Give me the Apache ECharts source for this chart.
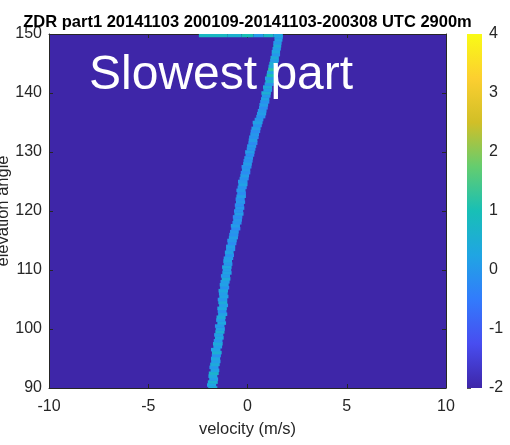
<!DOCTYPE html>
<html><head><meta charset="utf-8">
<script src="https://cdn.jsdelivr.net/npm/echarts@6/dist/echarts.min.js"></script>
<style>html,body{margin:0;padding:0;background:#fff}#c{width:510px;height:445px}</style>
</head><body><div id="c"></div>
<script>
// ---------- text ----------
const titleText = 'ZDR part1 20141103 200109-20141103-200308 UTC 2900m';
const annotationText = 'Slowest part';
const xName = 'velocity (m/s)';
const yName = 'elevation angle';

// ---------- tick labels ----------
const velocityTicks = [-10, -5, 0, 5, 10];
const elevationTicks = [90, 100, 110, 120, 130, 140, 150];
const zdrTicks = [-2, -1, 0, 1, 2, 3, 4];

// ---------- trace rows (elevation, left/right velocity edge, ZDR) ----------
const rowElev = [90,90.5,91,91.5,92,92.5,93,93.5,94,94.5,95,95.5,96,96.5,97,97.5,98,98.5,99,99.5,
 100,100.5,101,101.5,102,102.5,103,103.5,104,104.5,105,105.5,106,106.5,107,107.5,108,108.5,109,109.5,
 110,110.5,111,111.5,112,112.5,113,113.5,114,114.5,115,115.5,116,116.5,117,117.5,118,118.5,119,119.5,
 120,120.5,121,121.5,122,122.5,123,123.5,124,124.5,125,125.5,126,126.5,127,127.5,128,128.5,129,129.5,
 130,130.5,131,131.5,132,132.5,133,133.5,134,134.5,135,135.5,136,136.5,137,137.5,138,138.5,139,139.5,
 140,140.5,141,141.5,142,142.5,143,143.5,144,144.5,145,145.5,146,146.5,147,147.5,148,148.5,149,149.5];
const rowLeft = [-1.98,-2.04,-2.00,-1.93,-1.97,-1.95,-1.86,-1.92,-1.88,-1.83,-1.84,-1.80,-1.79,-1.84,-1.72,-1.74,-1.70,-1.64,-1.68,-1.62,
 -1.60,-1.64,-1.52,-1.58,-1.56,-1.48,-1.50,-1.52,-1.43,-1.47,-1.50,-1.42,-1.44,-1.46,-1.38,-1.40,-1.36,-1.30,-1.34,-1.27,
 -1.25,-1.28,-1.20,-1.22,-1.20,-1.13,-1.14,-1.08,-1.08,-1.00,-1.02,-0.94,-0.92,-0.88,-0.82,-0.84,-0.76,-0.72,-0.74,-0.66,
 -0.68,-0.62,-0.64,-0.58,-0.60,-0.56,-0.52,-0.56,-0.50,-0.46,-0.48,-0.40,-0.36,-0.34,-0.28,-0.30,-0.22,-0.20,-0.16,-0.10,
 -0.12,-0.04,-0.02,0.04,0.06,0.08,0.14,0.16,0.20,0.28,0.26,0.36,0.44,0.48,0.52,0.58,0.60,0.64,0.68,0.72,
 0.70,0.80,0.78,0.86,0.90,0.88,0.96,0.98,1.04,1.06,1.10,1.14,1.16,1.22,1.22,1.26,1.30,1.30,1.36,1.36];
const rowRight = [-1.52,-1.58,-1.50,-1.48,-1.52,-1.45,-1.42,-1.46,-1.40,-1.36,-1.38,-1.34,-1.30,-1.36,-1.28,-1.25,-1.26,-1.20,-1.22,-1.16,
 -1.14,-1.16,-1.08,-1.12,-1.10,-1.02,-1.06,-1.04,-0.98,-1.02,-1.02,-0.96,-1.00,-0.98,-0.92,-0.95,-0.90,-0.86,-0.88,-0.80,
 -0.82,-0.80,-0.76,-0.78,-0.72,-0.68,-0.70,-0.62,-0.62,-0.56,-0.54,-0.48,-0.46,-0.44,-0.36,-0.38,-0.30,-0.28,-0.26,-0.20,
 -0.22,-0.16,-0.18,-0.12,-0.14,-0.08,-0.08,-0.10,-0.04,0.00,0.00,0.06,0.08,0.14,0.14,0.20,0.22,0.26,0.28,0.34,
 0.36,0.40,0.44,0.50,0.50,0.56,0.58,0.64,0.66,0.72,0.76,0.80,0.90,0.94,0.96,1.02,1.04,1.10,1.10,1.16,
 1.18,1.24,1.24,1.32,1.34,1.36,1.40,1.46,1.46,1.52,1.54,1.58,1.58,1.64,1.64,1.68,1.70,1.72,1.76,1.78];
const rowZdr = [0.4,0.2,0.5,0.1,0.3,0.6,0.2,0.0,0.4,0.1,0.3,-0.1,0.5,0.2,0.1,0.4,0.0,0.3,0.1,0.5,
 0.2,0.0,0.3,0.1,0.4,0.2,-0.1,0.3,0.1,0.4,0.0,0.2,0.1,0.3,-0.1,0.2,0.1,0.4,0.0,0.2,
 0.1,0.3,0.0,0.2,0.1,-0.1,0.2,0.0,0.1,-0.2,0.0,0.1,-0.1,0.0,-0.2,0.1,-0.1,0.0,-0.2,0.1,
 -0.1,0.0,-0.2,0.0,-0.1,0.1,-0.2,0.0,-0.1,0.2,0.0,-0.1,0.1,-0.2,0.0,-0.1,0.1,-0.1,0.0,-0.2,
 0.1,-0.1,0.0,-0.2,0.1,-0.1,0.0,-0.2,0.1,-0.1,0.2,0.0,-0.1,0.1,0.0,-0.2,0.1,-0.1,0.2,0.0,
 0.5,0.1,0.4,0.0,0.6,0.1,1.0,0.2,1.2,0.3,0.5,0.1,0.4,0.0,0.3,0.1,0.4,0.0,0.2,0.1];

// ---------- top row (elevation 150 band) ----------
const topElev = 149.75;
const topLeft  = [-2.45, -1.00, -0.30, 0.30, 0.80, 1.30];
const topRight = [-1.00, -0.30,  0.30, 0.80, 1.30, 1.78];
const topZdr   = [0.8, 0.6, 1.0, 0.1, 0.8, 0.3];

// ---------- style ----------
const parula = ['#3e26a8','#484df0','#327bfc','#20a5e3','#18bfb6','#64cd6f','#d1bf27','#fccf30','#f9fb15'];
const FONT = '"Liberation Sans", Arial, Helvetica, sans-serif';
const INK = '#262626';
const cellHalf = 0.25;

const cells = [];
for (let i = 0; i < rowElev.length; i++) cells.push([rowLeft[i], rowRight[i], rowElev[i], rowZdr[i]]);
for (let i = 0; i < topLeft.length; i++) cells.push([topLeft[i], topRight[i], topElev, topZdr[i]]);

const chart = echarts.init(document.getElementById('c'), null, {renderer: 'canvas'});

function renderCell(params, api) {
  const a = api.coord([api.value(0), api.value(2) + cellHalf]);
  const b = api.coord([api.value(1), api.value(2) - cellHalf]);
  return {
    type: 'rect',
    shape: {x: a[0], y: a[1] - 0.3, width: b[0] - a[0], height: b[1] - a[1] + 0.6},
    style: {fill: api.visual('color')}
  };
}
function renderBar(params, api) {
  const a = api.coord([0, api.value(1)]);
  const b = api.coord([1, api.value(0)]);
  return {
    type: 'rect',
    shape: {x: a[0], y: a[1], width: b[0] - a[0], height: b[1] - a[1]},
    style: {fill: new echarts.graphic.LinearGradient(0, 1, 0, 0,
      parula.map((c, i) => ({offset: i / (parula.length - 1), color: c})))}
  };
}

const tickStyle = {color: INK, width: 1};
const labelStyle = {fontSize: 16, color: INK, fontFamily: FONT};

const option = {
  animation: false,
  backgroundColor: '#ffffff',
  title: {
    text: titleText, left: 247.5, top: 22.5, padding: 0,
    textAlign: 'center', textVerticalAlign: 'middle',
    textStyle: {fontSize: 16.5, fontWeight: 'bold', color: '#000', fontFamily: FONT}
  },
  grid: [
    {left: 49, right: 64, top: 34, bottom: 57, show: true, backgroundColor: parula[0], borderWidth: 0, outerBoundsMode: 'none', containLabel: false},
    {left: 467, width: 15, top: 34, bottom: 57, show: false, outerBoundsMode: 'none', containLabel: false}
  ],
  xAxis: [
    {type: 'value', gridIndex: 0, position: 'bottom',
     min: velocityTicks[0], max: velocityTicks[velocityTicks.length - 1], interval: velocityTicks[1] - velocityTicks[0],
     axisLine: {show: true, onZero: false, lineStyle: tickStyle},
     axisTick: {show: true, inside: true, length: 4, lineStyle: tickStyle},
     axisLabel: Object.assign({margin: 11, showMinLabel: true, showMaxLabel: true}, labelStyle),
     splitLine: {show: false},
     name: xName, nameLocation: 'middle', nameGap: 33, nameMoveOverlap: false,
     nameTextStyle: {fontSize: 16.5, color: INK, fontFamily: FONT}},
    {type: 'value', gridIndex: 0, position: 'top',
     min: velocityTicks[0], max: velocityTicks[velocityTicks.length - 1], interval: velocityTicks[1] - velocityTicks[0],
     axisLine: {show: true, onZero: false, lineStyle: tickStyle},
     axisTick: {show: true, inside: true, length: 4, lineStyle: tickStyle},
     axisLabel: {show: false}, splitLine: {show: false}},
    {type: 'value', gridIndex: 1, min: 0, max: 1, show: false}
  ],
  yAxis: [
    {type: 'value', gridIndex: 0, position: 'left',
     min: elevationTicks[0], max: elevationTicks[elevationTicks.length - 1], interval: elevationTicks[1] - elevationTicks[0],
     axisLine: {show: true, onZero: false, lineStyle: tickStyle},
     axisTick: {show: true, inside: true, length: 4, lineStyle: tickStyle},
     axisLabel: Object.assign({margin: 7, showMinLabel: true, showMaxLabel: true}, labelStyle),
     splitLine: {show: false},
     name: yName, nameLocation: 'middle', nameGap: 37, nameMoveOverlap: false,
     nameTextStyle: {fontSize: 16.5, color: INK, fontFamily: FONT}},
    {type: 'value', gridIndex: 0, position: 'right',
     min: elevationTicks[0], max: elevationTicks[elevationTicks.length - 1], interval: elevationTicks[1] - elevationTicks[0],
     axisLine: {show: true, onZero: false, lineStyle: tickStyle},
     axisTick: {show: true, inside: true, length: 4, lineStyle: tickStyle},
     axisLabel: {show: false}, splitLine: {show: false}},
    {type: 'value', gridIndex: 1, position: 'right',
     min: zdrTicks[0], max: zdrTicks[zdrTicks.length - 1], interval: zdrTicks[1] - zdrTicks[0],
     axisLine: {show: false},
     axisTick: {show: true, inside: false, length: 4, lineStyle: {color: '#555', width: 1}},
     axisLabel: Object.assign({margin: 7, showMinLabel: true, showMaxLabel: true}, labelStyle),
     splitLine: {show: false}}
  ],
  visualMap: {
    type: 'continuous', show: false, seriesIndex: 0, dimension: 3,
    min: zdrTicks[0], max: zdrTicks[zdrTicks.length - 1],
    inRange: {color: parula}
  },
  series: [
    {type: 'custom', name: 'ZDR', xAxisIndex: 0, yAxisIndex: 0, clip: true,
     renderItem: renderCell, encode: {x: [0, 1], y: 2}, data: cells, silent: true, z: 2},
    {type: 'custom', name: 'colorbar', xAxisIndex: 2, yAxisIndex: 2, clip: false,
     renderItem: renderBar, encode: {y: [0, 1]}, data: [[zdrTicks[0], zdrTicks[zdrTicks.length - 1]]], silent: true}
  ],
  graphic: [
    {type: 'text', z: 100,
     x: 89, y: 76,
     style: {text: annotationText, fill: '#ffffff', fontSize: 48, fontFamily: FONT, align: 'left', verticalAlign: 'middle'}}
  ]
};
chart.setOption(option);
</script>
</body></html>
